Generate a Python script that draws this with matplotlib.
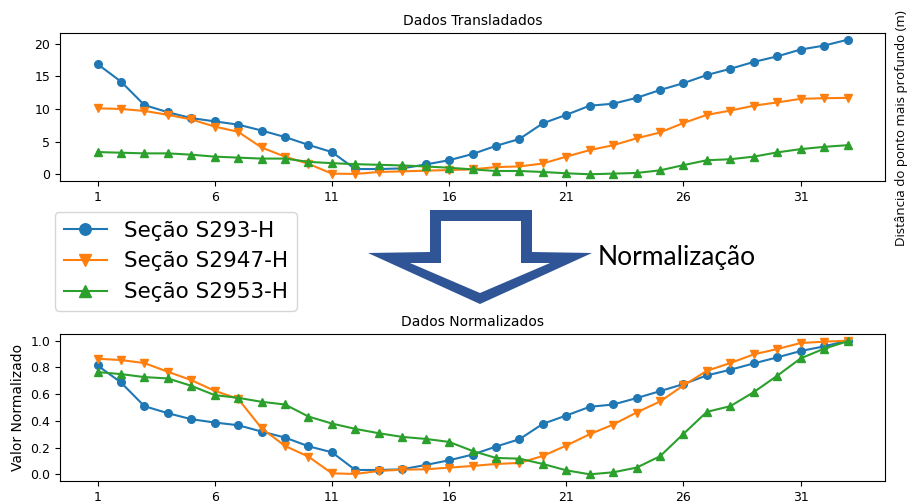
import numpy as np
from matplotlib import pyplot as plt
from matplotlib.patches import Polygon

# pontos ao longo das secoes
pontos = list(range(1, 34))
xticks = list(range(1, 34, 5))

# Dados Transladados (m)
s293_t = [16.87, 14.2, 10.6, 9.5, 8.6, 8.1, 7.6, 6.7, 5.7, 4.5, 3.4, 0.8, 0.8, 0.9, 1.5, 2.15,
          3.1, 4.35, 5.4, 7.8, 9.1, 10.5, 10.8, 11.7, 12.9, 13.95, 15.2, 16.15, 17.2, 18.05, 19.1, 19.7, 20.6]
s2947_t = [10.1, 10.0, 9.7, 9.1, 8.4, 7.3, 6.5, 4.1, 2.7, 1.6, 0.1, 0.05, 0.35, 0.45, 0.55, 0.65,
           0.75, 1.1, 1.2, 1.65, 2.7, 3.7, 4.45, 5.5, 6.4, 7.85, 9.1, 9.75, 10.5, 11.0, 11.55, 11.65, 11.7]
s2953_t = [3.4, 3.3, 3.2, 3.2, 3.0, 2.7, 2.55, 2.4, 2.4, 1.9, 1.7, 1.55, 1.45, 1.35, 1.2, 1.0,
           0.75, 0.5, 0.5, 0.35, 0.15, 0.0, 0.1, 0.2, 0.6, 1.4, 2.15, 2.3, 2.7, 3.35, 3.85, 4.2, 4.45]

# Dados Normalizados
s293_n = [0.815, 0.6875, 0.51, 0.4575, 0.4125, 0.3875, 0.3675, 0.32, 0.275, 0.21, 0.165, 0.0325,
          0.0325, 0.0375, 0.07, 0.105, 0.1475, 0.2075, 0.2625, 0.3775, 0.44, 0.505, 0.5225, 0.57,
          0.6225, 0.675, 0.74, 0.7825, 0.83, 0.875, 0.9225, 0.9575, 1.0]
s2947_n = [0.865, 0.855, 0.8325, 0.7675, 0.705, 0.625, 0.565, 0.345, 0.2125, 0.1325, 0.0075, 0.0025,
           0.025, 0.035, 0.0375, 0.05, 0.0625, 0.0775, 0.085, 0.1375, 0.215, 0.30, 0.3725, 0.4625,
           0.545, 0.665, 0.775, 0.8325, 0.8975, 0.9375, 0.9825, 0.9925, 1.0]
s2953_n = [0.765, 0.75, 0.7275, 0.7175, 0.6625, 0.5925, 0.5725, 0.5425, 0.5225, 0.4325, 0.38, 0.34,
           0.3075, 0.28, 0.265, 0.2425, 0.175, 0.1225, 0.1175, 0.0775, 0.03, 0.0, 0.015, 0.05,
           0.135, 0.3025, 0.4675, 0.51, 0.615, 0.7375, 0.8675, 0.94, 0.995]

secoes = ['Seção S293-H', 'Seção S2947-H', 'Seção S2953-H']
marcadores = ['o', 'v', '^']

W, H = 914, 503
fig = plt.figure(figsize=(W/100, H/100), dpi=100)

def px(x, y):
    return (x/W, 1 - y/H)

ax1 = fig.add_axes([60/W, 1 - 181/H, 825/W, 148/H])
ax2 = fig.add_axes([60/W, 1 - 481/H, 825/W, 147/H])

linhas = []
for serie, m in zip([s293_t, s2947_t, s2953_t], marcadores):
    l, = ax1.plot(pontos, serie, marker=m, markersize=5.5)
    linhas.append(l)
for serie, m in zip([s293_n, s2947_n, s2953_n], marcadores):
    ax2.plot(pontos, serie, marker=m, markersize=5.5)

ax1.set_title('Dados Transladados', fontsize=10)
ax2.set_title('Dados Normalizados', fontsize=10)
ax2.set_ylabel('Valor Normalizado', fontsize=10)
for ax in [ax1, ax2]:
    ax.set_xticks(xticks)
    ax.tick_params(labelsize=9)
ax1.set_yticks([0, 5, 10, 15, 20])
ax2.set_yticks([0.0, 0.2, 0.4, 0.6, 0.8, 1.0])

fig.legend(linhas, secoes, loc='upper left', bbox_to_anchor=px(55, 212),
           fontsize=15.5, markerscale=1.5, borderaxespad=0, handlelength=2.0)

# seta de normalizacao
externa = [px(430, 210), px(532, 210), px(532, 252), px(592, 253), px(480, 304),
           px(368, 253), px(430, 252)]
interna = [px(441, 221), px(521, 221), px(521, 263), px(550, 263), px(480, 293),
           px(410, 263), px(441, 263)]
fig.patches.append(Polygon(externa, closed=True, transform=fig.transFigure,
                           facecolor='#2F5597', edgecolor='none'))
fig.patches.append(Polygon(interna, closed=True, transform=fig.transFigure,
                           facecolor='white', edgecolor='none'))

x, y = px(598, 257)
fig.text(x, y, 'Normalização', fontsize=19, family='Lato', ha='left', va='center')
x, y = px(902, 128)
fig.text(x, y, 'Distância do ponto mais profundo (m)', fontsize=9.5, family='Open Sans',
         rotation=90, ha='center', va='center')

plt.savefig('out.png', dpi=100)
